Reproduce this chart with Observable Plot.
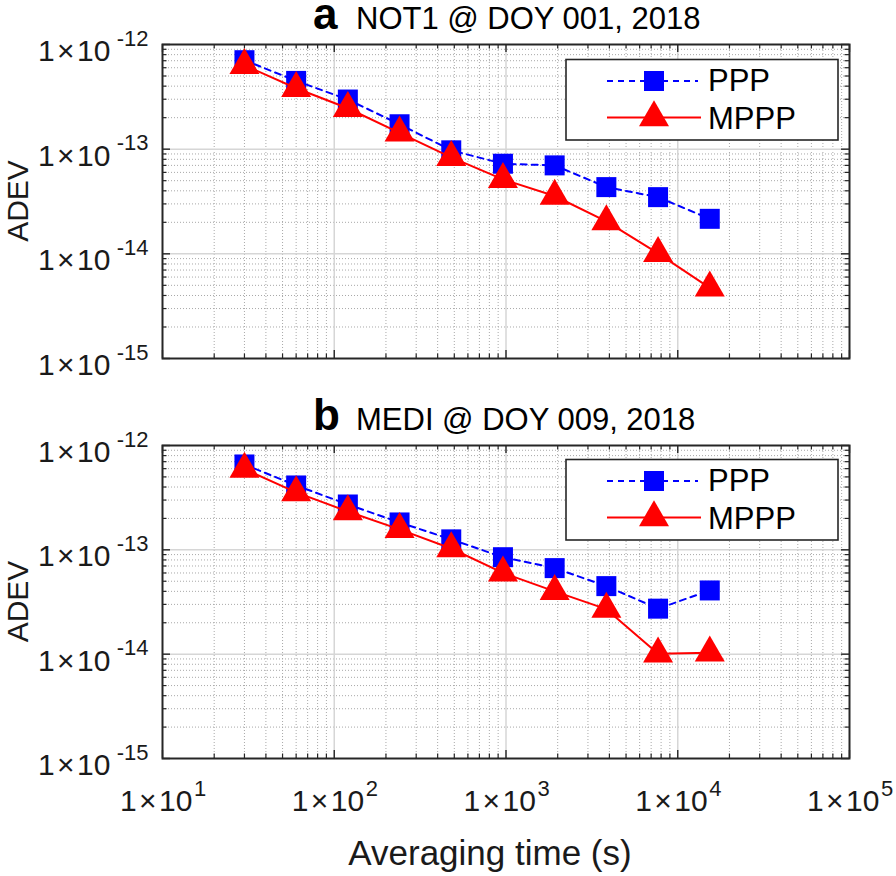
<!DOCTYPE html>
<html><head><meta charset="utf-8">
<script src="https://cdn.jsdelivr.net/npm/d3@7"></script>
<script src="https://cdn.jsdelivr.net/npm/@observablehq/plot@0.6"></script>
<style>
html,body{margin:0;padding:0;background:#fff;}
#root{position:relative;width:896px;height:876px;overflow:hidden;font-family:"Liberation Sans",Arial,Helvetica,sans-serif;}
#root svg{position:absolute;left:0;overflow:visible;}
</style></head><body><div id="root"></div>
<script>
// ---- data ----
const tau = [30, 60, 120, 240, 480, 960, 1920, 3840, 7680, 15360];
const pppA  = [7.08e-13, 4.49e-13, 2.98e-13, 1.73e-13, 9.75e-14, 7.26e-14, 7.0e-14, 4.34e-14, 3.48e-14, 2.16e-14];
const mpppA = [6.33e-13, 3.82e-13, 2.46e-13, 1.43e-13, 8.35e-14, 5.14e-14, 3.57e-14, 2.04e-14, 1.01e-14, 4.73e-15];
const pppB  = [6.58e-13, 4.14e-13, 2.72e-13, 1.83e-13, 1.26e-13, 8.5e-14, 6.68e-14, 4.49e-14, 2.73e-14, 4.08e-14];
const mpppB = [5.95e-13, 3.55e-13, 2.33e-13, 1.57e-13, 1.03e-13, 6.01e-14, 4.0e-14, 2.7e-14, 1.01e-14, 1.03e-14];
const seriesNames = ["PPP", "MPPP"];
const titlesLetter = ["a", "b"];
const titlesText = ["NOT1 @ DOY 001, 2018", "MEDI @ DOY 009, 2018"];
// ticks
const xMajor = [1e1, 1e2, 1e3, 1e4, 1e5];
const xTickExp = ["1", "2", "3", "4", "5"];
const yMajor = [1e-12, 1e-13, 1e-14, 1e-15];
const yTickExp = ["-12", "-13", "-14", "-15"];
const minorMult = [2, 3, 4, 5, 6, 7, 8, 9];
const xDecades = [1e1, 1e2, 1e3, 1e4];
const yDecades = [1e-15, 1e-14, 1e-13];
const xMinor = xDecades.flatMap(d => minorMult.map(m => m * d));
const yMinor = yDecades.flatMap(d => minorMult.map(m => m * d));
const xLabel = "Averaging time (s)";
const yLabel = "ADEV";

const BLUE = "#0000ff", RED = "#ff0000", AX = "#262626";
const W = 896, ML = 162, MR = 47;
const FW = W - ML - MR;

const squareSym = {draw(ctx) { ctx.rect(-10, -10, 20, 20); }};
const triSym = {draw(ctx) { ctx.moveTo(0, -17.3); ctx.lineTo(15, 8.7); ctx.lineTo(-15, 8.7); ctx.closePath(); }};

function panel(ppp, mppp, top, marginTop, height, marginBottom, showX) {
  const FH = height - marginTop - marginBottom;
  const rows = tau.map((t, i) => ({t, ppp: ppp[i], mppp: mppp[i]}));
  const xLab = xMajor.map((v, i) => ({v, e: xTickExp[i]}));
  const yLab = yMajor.map((v, i) => ({v, e: yTickExp[i]}));
  const innerX = xMajor.slice(1, -1), innerY = yMajor.slice(1, -1);
  const marks = [
    Plot.ruleX(xMinor, {stroke: "#a8a8a8", strokeDasharray: "1,2", strokeWidth: 1}),
    Plot.ruleY(yMinor, {stroke: "#a8a8a8", strokeDasharray: "1,2", strokeWidth: 1}),
    Plot.ruleX(innerX, {stroke: "#d6d6d6", strokeWidth: 1.5}),
    Plot.ruleY(innerY, {stroke: "#d6d6d6", strokeWidth: 1.5}),
    // inward ticks on all four sides
    Plot.ruleX(xMajor, {stroke: AX, strokeWidth: 1.4, insetTop: FH - 8}),
    Plot.ruleX(xMinor, {stroke: AX, strokeWidth: 1.2, insetTop: FH - 4.5}),
    Plot.ruleX(xMajor, {stroke: AX, strokeWidth: 1.4, insetBottom: FH - 8}),
    Plot.ruleX(xMinor, {stroke: AX, strokeWidth: 1.2, insetBottom: FH - 4.5}),
    Plot.ruleY(yMajor, {stroke: AX, strokeWidth: 1.4, insetRight: FW - 8}),
    Plot.ruleY(yMinor, {stroke: AX, strokeWidth: 1.2, insetRight: FW - 4.5}),
    Plot.ruleY(yMajor, {stroke: AX, strokeWidth: 1.4, insetLeft: FW - 8}),
    Plot.ruleY(yMinor, {stroke: AX, strokeWidth: 1.2, insetLeft: FW - 4.5}),
    Plot.frame({stroke: AX, strokeWidth: 2}),
    // data
    Plot.line(rows, {x: "t", y: "ppp", stroke: BLUE, strokeWidth: 2, strokeDasharray: "6,5"}),
    Plot.dot(rows, {x: "t", y: "ppp", symbol: squareSym, fill: BLUE, stroke: "none"}),
    Plot.line(rows, {x: "t", y: "mppp", stroke: RED, strokeWidth: 2}),
    Plot.dot(rows, {x: "t", y: "mppp", symbol: triSym, fill: RED, stroke: "none"}),
    // y tick labels
    Plot.text(yLab, {y: "v", text: () => "1\u200A×\u200A10", frameAnchor: "left", textAnchor: "end", lineAnchor: "bottom", dx: -52, dy: 16.5, fontSize: 30, fill: "#1a1a1a"}),
    Plot.text(yLab, {y: "v", text: "e", frameAnchor: "left", textAnchor: "end", lineAnchor: "bottom", dx: -14, dy: 1, fontSize: 22, fill: "#1a1a1a"})
  ];
  if (showX) {
    marks.push(
      Plot.text(xLab, {x: "v", text: () => "1\u200A×\u200A10", frameAnchor: "bottom", textAnchor: "end", lineAnchor: "bottom", dx: 30, dy: 52, fontSize: 30, fill: "#1a1a1a"}),
      Plot.text(xLab, {x: "v", text: "e", frameAnchor: "bottom", textAnchor: "start", lineAnchor: "bottom", dx: 31.5, dy: 37, fontSize: 22, fill: "#1a1a1a"})
    );
  }
  const svg = Plot.plot({
    width: W, height, marginLeft: ML, marginRight: MR, marginTop, marginBottom,
    style: {fontFamily: '"Liberation Sans", Arial, sans-serif', background: "transparent", overflow: "visible"},
    x: {type: "log", domain: [1e1, 1e5], axis: null},
    y: {type: "log", domain: [1e-15, 1e-12], axis: null},
    marks
  });
  svg.style.top = top + "px";
  return svg;
}

const root = document.getElementById("root");
root.appendChild(panel(pppA, mpppA, 0, 44, 360, 2, false));
root.appendChild(panel(pppB, mpppB, 400, 45, 476, 118, true));

// overlay: titles, axis labels, legends
const ov = d3.select(root).append("svg").attr("width", W).attr("height", 876)
  .style("top", "0px").style("font-family", '"Liberation Sans", Arial, sans-serif');

const titleBase = [28.5, 430];
titleBase.forEach((b, i) => {
  ov.append("text").attr("x", 313).attr("y", b).attr("font-size", 44).attr("font-weight", "bold").attr("fill", "#000").text(titlesLetter[i]);
  ov.append("text").attr("x", 356).attr("y", b).attr("font-size", 31).attr("fill", "#000").text(titlesText[i]);
});

[201, 601.5].forEach(cy => {
  ov.append("text").attr("transform", `translate(27.5,${cy}) rotate(-90)`).attr("text-anchor", "middle")
    .attr("font-size", 30).attr("fill", "#1a1a1a").text(yLabel);
});
ov.append("text").attr("x", 490).attr("y", 865).attr("text-anchor", "middle").attr("font-size", 35).attr("fill", "#1a1a1a").text(xLabel);

const sqPath = d3.symbol().type(squareSym)();
const triPath = d3.symbol().type(triSym)();
[0, 400].forEach(oy => {
  const g = ov.append("g").attr("transform", `translate(0,${oy})`);
  g.append("rect").attr("x", 566).attr("y", 59.5).attr("width", 272).attr("height", 80.5)
    .attr("fill", "#fff").attr("stroke", AX).attr("stroke-width", 1.6);
  g.append("line").attr("x1", 607).attr("x2", 698).attr("y1", 81).attr("y2", 81)
    .attr("stroke", BLUE).attr("stroke-width", 2).attr("stroke-dasharray", "6,5");
  g.append("path").attr("d", sqPath).attr("transform", "translate(654,81)").attr("fill", BLUE);
  g.append("line").attr("x1", 607).attr("x2", 701).attr("y1", 117.5).attr("y2", 117.5)
    .attr("stroke", RED).attr("stroke-width", 2);
  g.append("path").attr("d", triPath).attr("transform", "translate(654,117.5)").attr("fill", RED);
  g.append("text").attr("x", 708).attr("y", 91).attr("font-size", 31).attr("fill", "#000").text(seriesNames[0]);
  g.append("text").attr("x", 708).attr("y", 128.5).attr("font-size", 31).attr("fill", "#000").text(seriesNames[1]);
});
</script>
</body></html>
